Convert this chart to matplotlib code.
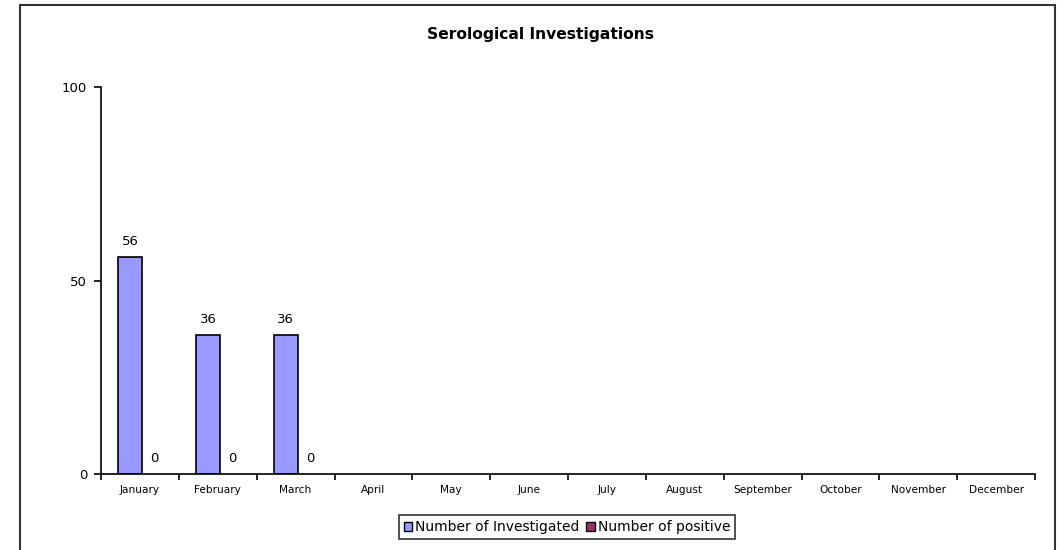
import matplotlib
matplotlib.use("Agg")
import matplotlib.pyplot as plt
from matplotlib.patches import Rectangle, Patch
import numpy as np

months = ["January", "February", "March", "April", "May", "June", "July",
          "August", "September", "October", "November", "December"]
investigated = [56, 36, 36]
positive = [0, 0, 0]
series_names = ["Number of Investigated", "Number of positive"]
col_inv = "#9999FF"
col_pos = "#993366"

W, H = 1064, 550
plt.rcParams['font.family'] = ['DejaVu Sans']
fig = plt.figure(figsize=(W / 100, H / 100), dpi=100)

# outer frame
fig.patches.append(Rectangle((20 / W, -0.01), (1055 - 20) / W, 1 - 5 / H + 0.01,
                             transform=fig.transFigure, fill=False,
                             edgecolor="#333333", linewidth=1.5))

ax = fig.add_axes([101 / W, 1 - 474 / H, (1035 - 101) / W, (474 - 87) / H])
n = len(months)
bw = 0.31
x_inv = np.arange(len(investigated)) + 0.5 - bw / 2 + 0.03
x_pos = np.arange(len(positive)) + 0.5 + bw / 2 + 0.03
b1 = ax.bar(x_inv, investigated, width=bw, color=col_inv, edgecolor="black", linewidth=1.2)
b2 = ax.bar(x_pos, positive, width=bw, color=col_pos, edgecolor="none", linewidth=0)
for r, v in zip(b1, investigated):
    ax.text(r.get_x() + r.get_width() / 2, v + 2.3, str(v), ha="center", va="bottom", fontsize=9.5)
for r, v in zip(b2, positive):
    ax.text(r.get_x() + r.get_width() / 2, v + 2.3, str(v), ha="center", va="bottom", fontsize=9.5)

ax.set_xlim(0, n)
ax.set_ylim(0, 100)
ax.set_yticks([0, 50, 100])
ax.tick_params(axis="y", labelsize=9.5, length=5, width=1.2, direction="out", pad=5)
ax.set_xticks(np.arange(n + 1))
ax.set_xticklabels([])
ax.set_xticks(np.arange(n) + 0.5, minor=True)
ax.set_xticklabels(months, minor=True, fontsize=7.6)
ax.tick_params(axis="x", which="major", length=4, width=1.2, direction="out")
ax.tick_params(axis="x", which="minor", length=0, pad=8)
for s in ["top", "right"]:
    ax.spines[s].set_visible(False)
for s in ["left", "bottom"]:
    ax.spines[s].set_linewidth(1.2)

fig.text(540 / W, 1 - 34 / H, "Serological Investigations", ha="center", va="center",
         fontsize=11.2, fontweight="bold")

handles = [Patch(facecolor=col_inv, edgecolor="black"), Patch(facecolor=col_pos, edgecolor="black")]
leg = fig.legend(handles, series_names, loc="center", bbox_to_anchor=(567 / W, 1 - 527 / H),
                 ncol=2, fontsize=10, frameon=True, fancybox=False, handlelength=0.6,
                 handleheight=0.6, handletextpad=0.2, columnspacing=0.5, borderpad=0.35,
                 borderaxespad=0)
leg.get_frame().set_edgecolor("black")
leg.get_frame().set_linewidth(1.2)

fig.savefig("out.png", dpi=100)
